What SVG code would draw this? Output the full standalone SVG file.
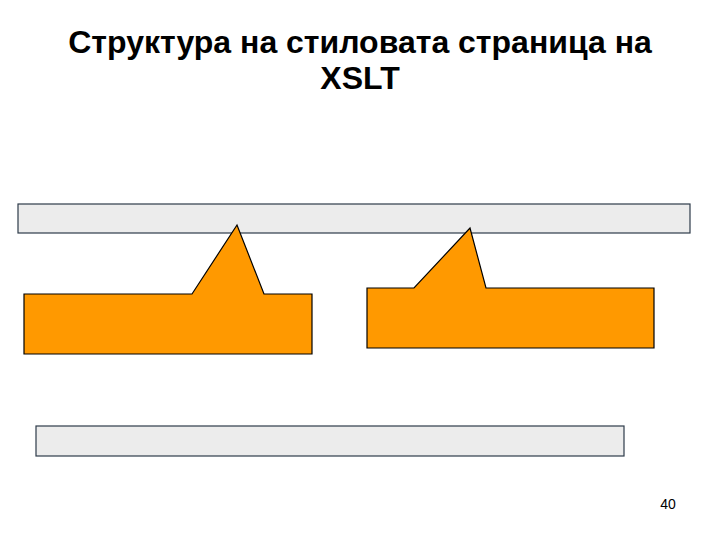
<svg xmlns="http://www.w3.org/2000/svg" width="720" height="540" viewBox="0 0 720 540">
<style>
.t{font-family:"Liberation Sans",Arial,sans-serif;font-weight:bold;font-size:32px;fill:#000;text-anchor:middle}
.bar{fill:#ECECEC;stroke:#2E3B4A;stroke-width:1.2}
.call{fill:#FF9900;stroke:#000;stroke-width:1.2;stroke-linejoin:miter}
.n{font-family:"Liberation Sans",Arial,sans-serif;font-size:14px;fill:#000;text-anchor:middle}
</style>
<rect width="720" height="540" fill="#fff"/>
<g id="title">
<text class="t" x="360" y="53">Структура на стиловата страница на</text>
<text class="t" x="360" y="89">XSLT</text>
</g>
<g id="topbar"><rect class="bar" x="18" y="204" width="672" height="29"/></g>
<g id="callout1"><path class="call" d="M24,294 H192 L237,225 L264,294 H312 V354 H24 Z"/></g>
<g id="callout2"><path class="call" d="M367,288 H414 L470,228 L486,288 H654 V348 H367 Z"/></g>
<g id="bottombar"><rect class="bar" x="36" y="426" width="588" height="30"/></g>
<g id="connectors"></g>
<text class="n" x="668" y="509">40</text>
</svg>
